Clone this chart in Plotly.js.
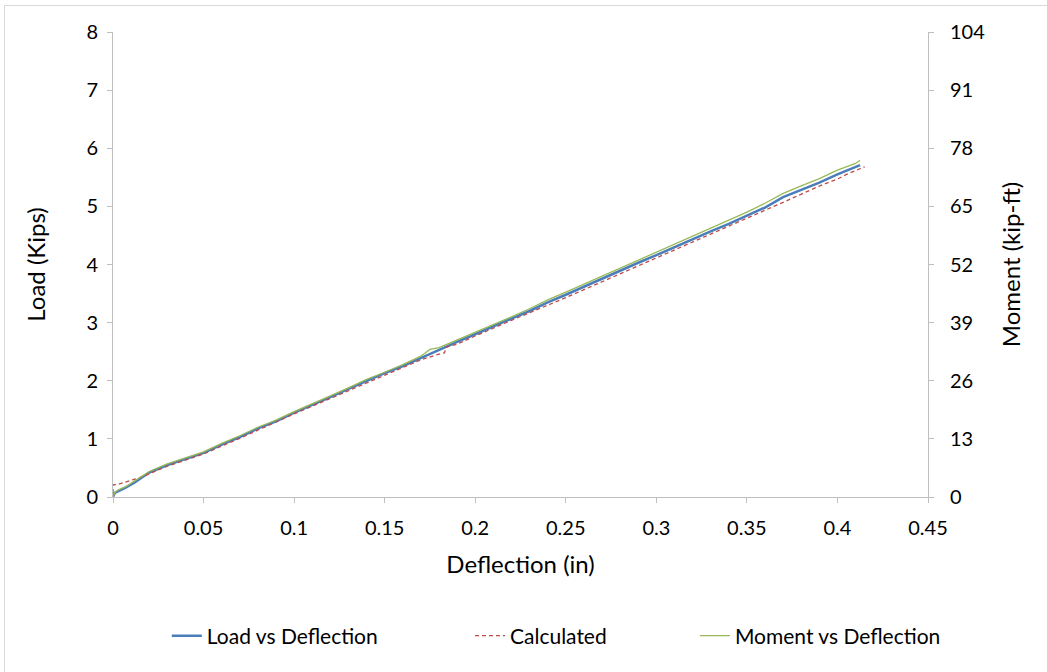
<!DOCTYPE html>
<html>
<head>
<meta charset="utf-8">
<script src="https://cdn.plot.ly/plotly-3.0.1.min.js"></script>
<style>
html,body{margin:0;padding:0;background:#fff;overflow:hidden;}
#chart{width:1047px;height:672px;}
#frame{position:absolute;left:4px;top:5px;width:1050px;height:700px;border:1px solid #d9d9d9;pointer-events:none;}
</style>
</head>
<body>
<div id="chart"></div>
<div id="frame"></div>
<script>
// Load vs Deflection (measured)
const deflection = [0, 0.001, 0.003, 0.007, 0.012, 0.02, 0.03, 0.04, 0.05, 0.06, 0.07, 0.08, 0.09, 0.10, 0.11, 0.12, 0.13, 0.14, 0.15, 0.16, 0.17, 0.175, 0.18, 0.19, 0.20, 0.21, 0.22, 0.23, 0.24, 0.25, 0.26, 0.27, 0.28, 0.29, 0.30, 0.31, 0.32, 0.33, 0.34, 0.35, 0.36, 0.37, 0.38, 0.39, 0.40, 0.41, 0.4125];
const loadKips   = [0, 0.07, 0.10, 0.16, 0.25, 0.42, 0.55, 0.66, 0.76, 0.90, 1.03, 1.18, 1.30, 1.45, 1.58, 1.72, 1.86, 2.00, 2.13, 2.25, 2.39, 2.47, 2.53, 2.67, 2.80, 2.94, 3.07, 3.20, 3.35, 3.48, 3.62, 3.75, 3.89, 4.03, 4.16, 4.30, 4.44, 4.57, 4.70, 4.84, 4.98, 5.16, 5.28, 5.41, 5.55, 5.67, 5.71];
// Moment vs Deflection (kip-ft, right axis)
const momentKipFt = [0, 1.0, 1.6, 2.3, 3.6, 5.7, 7.4, 8.8, 10.1, 12.0, 13.7, 15.6, 17.2, 19.1, 20.8, 22.6, 24.4, 26.3, 27.9, 29.6, 31.5, 33.0, 33.4, 35.1, 36.8, 38.6, 40.3, 42.1, 44.1, 45.8, 47.6, 49.4, 51.2, 53.0, 54.7, 56.6, 58.4, 60.1, 61.9, 63.7, 65.7, 67.9, 69.6, 71.2, 73.1, 74.6, 75.3];
// Calculated
const calcDeflection = [0, 0, 0.003, 0.008, 0.0144, 0.02, 0.03, 0.05, 0.07, 0.10, 0.13, 0.16, 0.17, 0.178, 0.183, 0.184, 0.19, 0.20, 0.22, 0.25, 0.28, 0.30, 0.32, 0.346, 0.37, 0.39, 0.40, 0.405, 0.415];
const calcLoad       = [0.07, 0.21, 0.22, 0.27, 0.33, 0.40, 0.53, 0.74, 1.01, 1.43, 1.83, 2.23, 2.36, 2.44, 2.48, 2.58, 2.63, 2.77, 3.04, 3.43, 3.84, 4.11, 4.38, 4.73, 5.07, 5.35, 5.47, 5.55, 5.68];

const xTicks = [0, 0.05, 0.1, 0.15, 0.2, 0.25, 0.3, 0.35, 0.4, 0.45];
const yTicks = [0, 1, 2, 3, 4, 5, 6, 7, 8];
const y2Ticks = [0, 13, 26, 39, 52, 65, 78, 91, 104];

const FONT = 'Lato, "Open Sans", sans-serif';

const traces = [
  {x: deflection, y: loadKips, name: 'Load vs Deflection', type: 'scatter', mode: 'lines',
   line: {color: '#4a7ebb', width: 2.5}, legend: 'legend'},
  {x: calcDeflection, y: calcLoad, name: 'Calculated', type: 'scatter', mode: 'lines',
   line: {color: '#be4b48', width: 1.3, dash: '4px,3px'}, legend: 'legend2'},
  {x: deflection, y: momentKipFt, name: 'Moment vs Deflection', type: 'scatter', mode: 'lines', yaxis: 'y2',
   line: {color: '#98b954', width: 1.3}, legend: 'legend3'}
];

const axisCommon = {
  showgrid: false, zeroline: false, showline: true, linecolor: '#bfbfbf', linewidth: 1,
  ticks: 'outside', ticklen: 5, tickcolor: '#bfbfbf', tickwidth: 1,
  tickfont: {family: FONT, size: 20, color: '#000'}
};

const legendCommon = {orientation: 'h', yanchor: 'middle', y: -0.299, xanchor: 'left',
  font: {family: FONT, size: 21, color: '#000'}, bgcolor: 'rgba(0,0,0,0)'};

const layout = {
  width: 1047, height: 672,
  margin: {l: 113, r: 119, t: 32, b: 175},
  paper_bgcolor: '#fff', plot_bgcolor: '#fff',
  showlegend: true,
  xaxis: Object.assign({}, axisCommon, {
    range: [0, 0.45], tickvals: xTicks, ticktext: xTicks.map(String), ticklabelstandoff: 8,
    title: {text: 'Deflection (in)', font: {family: FONT, size: 24, color: '#000'}, standoff: 18}
  }),
  yaxis: Object.assign({}, axisCommon, {
    range: [0, 8], tickvals: yTicks, ticktext: yTicks.map(String), ticklabelstandoff: 5,
    title: {text: 'Load (Kips)', font: {family: FONT, size: 24, color: '#000'}, standoff: 33}
  }),
  yaxis2: Object.assign({}, axisCommon, {
    range: [0, 104], tickvals: y2Ticks, ticktext: y2Ticks.map(String), ticklabelstandoff: 12,
    overlaying: 'y', side: 'right',
    title: {text: 'Moment (kip-ft)', font: {family: FONT, size: 24, color: '#000'}, standoff: 18}
  }),
  legend: Object.assign({}, legendCommon, {x: 0.066}),
  legend2: Object.assign({}, legendCommon, {x: 0.438}),
  legend3: Object.assign({}, legendCommon, {x: 0.714})
};

Plotly.newPlot('chart', traces, layout, {displayModeBar: false, staticPlot: true});
</script>
</body>
</html>
